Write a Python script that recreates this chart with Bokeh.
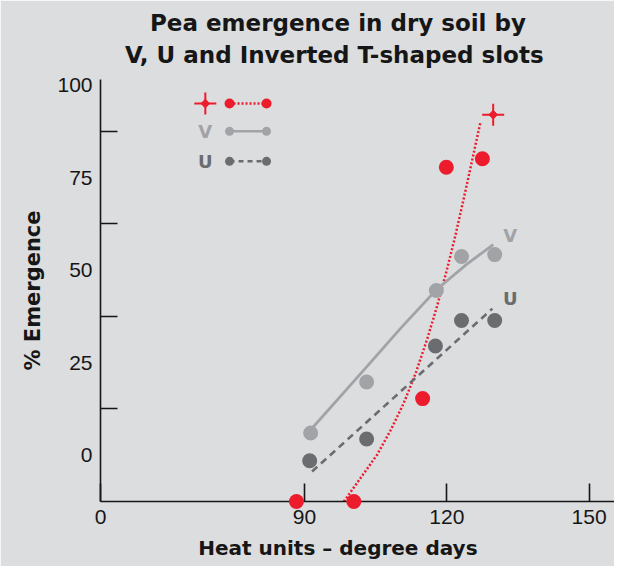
import math
from bokeh.plotting import figure
from bokeh.models import Range1d, FixedTicker, Title
from bokeh.embed import file_html
from bokeh.resources import INLINE
from bokeh.core.properties import value

# ---------------- data ----------------
TSLOT_X = [88.3, 100.4, 114.9, 119.9, 127.5]
TSLOT_Y = [-12.5, -12.5, 15.3, 77.8, 80.1]
TSLOT_FIT_X = [98.3, 101.8, 105.3, 108.1, 110.9, 113.4, 115.9, 118.0, 120.1, 121.8, 123.6, 125.4, 127.1]
TSLOT_FIT_Y = [-12.5, -6.2, 0.1, 6.6, 14.0, 22.0, 31.5, 40.5, 50.5, 59.3, 69.5, 80.0, 90.0]

V_X = [91.3, 103.1, 117.8, 123.1, 130.1]
V_Y = [6.0, 19.8, 44.5, 53.7, 54.2]
V_FIT_X = [91.6, 103.2, 110.2, 117.8, 124.3, 129.8]
V_FIT_Y = [7.3, 24.0, 34.2, 44.7, 51.7, 56.9]

U_X = [91.1, 103.1, 117.6, 123.1, 130.1]
U_Y = [-1.5, 4.4, 29.5, 36.4, 36.4]
U_FIT_X = [91.6, 129.6]
U_FIT_Y = [-4.4, 39.6]

Y_LABEL_TICKS = [0, 25, 50, 75, 100]
Y_MARK_TICKS = [12.5, 37.5, 62.5, 87.5]
X_TICKS = [47, 90, 120, 150]
X_TICK_LABELS = {47: "0"}

TITLE_1 = "Pea emergence in dry soil by"
TITLE_2 = "V, U and Inverted T-shaped slots"
X_TITLE = "Heat units \u2013 degree days"
Y_TITLE = "% Emergence"

# ---------------- style / layout ----------------
BOLD_FONT = "DejaVu Sans"
TICK_FONT = "Liberation Sans"
BG = "#dcdddf"
RED = "#ec1c2d"
LIGHT = "#a2a3a6"
DARK = "#6b6c6f"
INK = "#161616"

FIG_W, FIG_H = 614, 566
B_L, B_R, B_T, B_B = 100, 0, 79, 65
X_START, X_END = 47, 155.35
Y_START, Y_END = -12.5, 101.5

PX_X = (FIG_W - B_L - B_R) / (X_END - X_START)
PX_Y = (FIG_H - B_T - B_B) / (Y_END - Y_START)

# legend placement (data space, top-left of the frame)
LEG_SYM_X = 69.1
LEG_X0, LEG_X1 = 74.2, 82.0
LEG_ROWS = [95.0, 87.5, 79.4]

p = figure(width=FIG_W, height=FIG_H, output_backend="svg", toolbar_location=None,
           title=None,
           x_range=Range1d(X_START, X_END), y_range=Range1d(Y_START, Y_END),
           min_border_left=B_L, min_border_right=B_R,
           min_border_top=B_T, min_border_bottom=B_B,
           background_fill_color=BG, border_fill_color=BG,
           outline_line_color=BG, outline_line_width=2)
p.grid.visible = False

# titles (second line nearest the plot)
p.add_layout(Title(text=TITLE_2, align="left", offset=24.5, vertical_align="bottom",
                   text_font=BOLD_FONT, text_font_size="23px", text_font_style="bold",
                   text_color=INK, standoff=22.6), "above")
p.add_layout(Title(text=TITLE_1, align="left", offset=49.5, vertical_align="bottom",
                   text_font=BOLD_FONT, text_font_size="23px", text_font_style="bold",
                   text_color=INK, standoff=-15), "above")

# x axis
xa = p.xaxis[0]
xa.ticker = FixedTicker(ticks=X_TICKS)
xa.major_label_overrides = X_TICK_LABELS
xa.major_tick_in = 18
xa.major_tick_out = 0
xa.minor_tick_line_color = None
xa.axis_line_color = INK
xa.axis_line_width = 1.6
xa.major_tick_line_color = INK
xa.major_tick_line_width = 1.6
xa.major_label_text_font = TICK_FONT
xa.major_label_text_font_size = "21px"
xa.major_label_text_color = INK
xa.major_label_standoff = 8

p.add_layout(Title(text=X_TITLE, align="left", offset=97.7, vertical_align="bottom",
                   text_font=BOLD_FONT, text_font_size="20px", text_font_style="bold",
                   text_color=INK, standoff=14), "below")

# y axis
ya = p.yaxis[0]
ya.ticker = FixedTicker(ticks=Y_LABEL_TICKS, minor_ticks=Y_MARK_TICKS)
ya.major_tick_in = 0
ya.major_tick_out = 0
ya.major_tick_line_color = None
ya.minor_tick_in = 17
ya.minor_tick_out = 0
ya.minor_tick_line_color = INK
ya.minor_tick_line_width = 1.6
ya.axis_line_color = INK
ya.axis_line_width = 1.6
ya.major_label_text_font = TICK_FONT
ya.major_label_text_font_size = "21px"
ya.major_label_text_color = INK
ya.major_label_standoff = 8
ya.axis_label = Y_TITLE
ya.axis_label_text_font = BOLD_FONT
ya.axis_label_text_font_size = "21px"
ya.axis_label_text_font_style = "bold"
ya.axis_label_text_color = INK
ya.axis_label_standoff = 9

# fitted lines
p.line(TSLOT_FIT_X, TSLOT_FIT_Y, line_color=RED, line_width=2.5, line_dash="2 2")
p.line(V_FIT_X, V_FIT_Y, line_color=LIGHT, line_width=2.8)
p.line(U_FIT_X, U_FIT_Y, line_color=DARK, line_width=2.6, line_dash="7 5")

# data points
for xs, ys, c in [(V_X, V_Y, LIGHT), (U_X, U_Y, DARK), (TSLOT_X, TSLOT_Y, RED)]:
    r = p.scatter(xs, ys, size=15, fill_color=c, line_color=None)
    r.level = "overlay"

# end-of-line labels
p.text([V_FIT_X[-1]], [V_FIT_Y[-1]], text=["V"], x_offset=17, y_offset=-9,
       text_font=value(BOLD_FONT), text_font_style="bold", text_font_size="18px",
       text_color=LIGHT, text_align="center", text_baseline="middle")
p.text([U_FIT_X[-1]], [U_FIT_Y[-1]], text=["U"], x_offset=18, y_offset=-10,
       text_font=value(BOLD_FONT), text_font_style="bold", text_font_size="18px",
       text_color=DARK, text_align="center", text_baseline="middle")


def star(x, y, size):
    p.scatter([x], [y], marker="cross", size=size, line_color=RED, line_width=2)
    p.scatter([x], [y], marker="square", angle=math.pi / 4, size=size * 0.28,
              fill_color=RED, line_color=RED)


star(TSLOT_FIT_X[-1] + 12.7 / PX_X, TSLOT_FIT_Y[-1] + 7.4 / PX_Y, 22)

# legend
row_styles = [(RED, "2 2", 10), (LIGHT, "solid", 9), (DARK, "5 4", 9)]
for (c, dash, sz), yy in zip(row_styles, LEG_ROWS):
    p.line([LEG_X0, LEG_X1], [yy, yy], line_color=c, line_width=2.5, line_dash=dash)
    p.scatter([LEG_X0, LEG_X1], [yy, yy], size=sz, fill_color=c, line_color=None)
star(LEG_SYM_X, LEG_ROWS[0], 22)
p.text([LEG_SYM_X, LEG_SYM_X], LEG_ROWS[1:], text=["V", "U"],
       text_font=value(BOLD_FONT), text_font_style="bold", text_font_size="18px",
       text_color=[LIGHT, DARK], text_align="center", text_baseline="middle")

open("out.html", "w").write(file_html(p, INLINE))
